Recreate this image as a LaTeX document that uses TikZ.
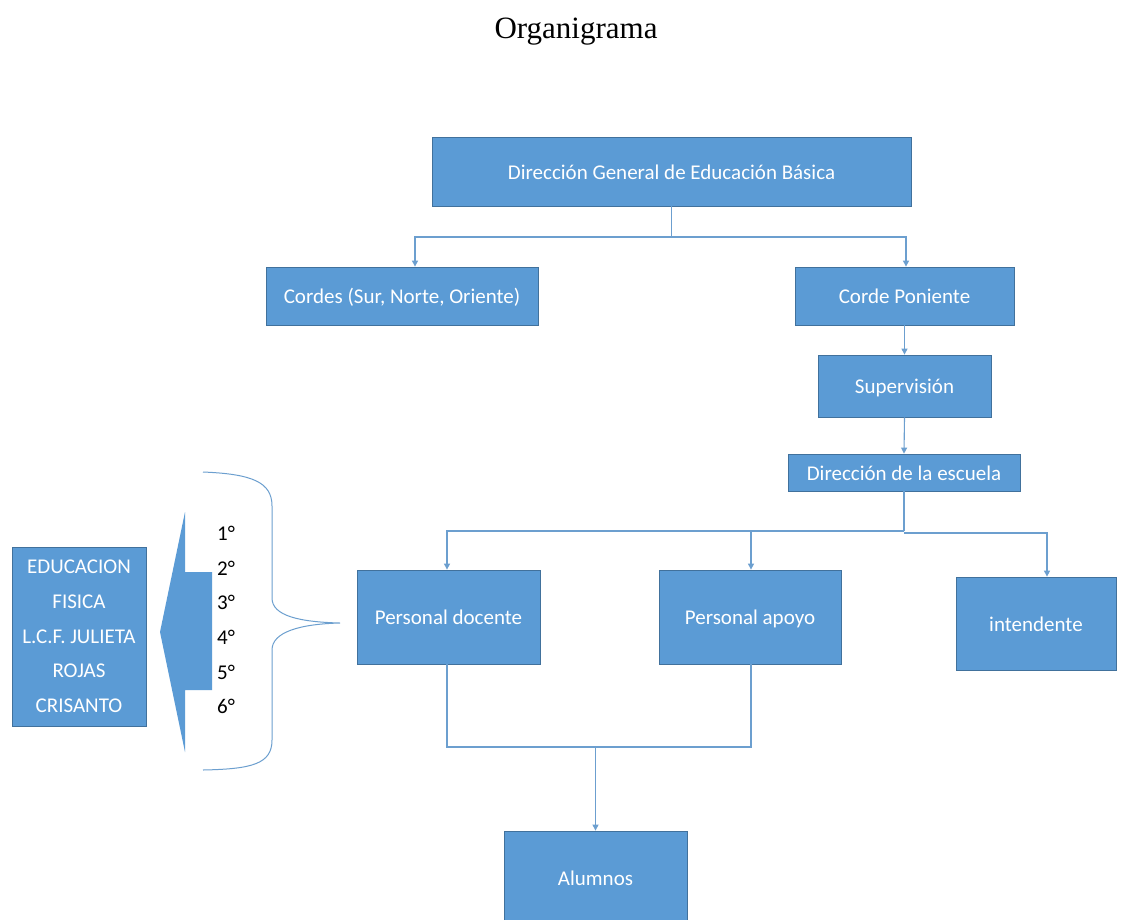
\documentclass[tikz,border=0pt]{standalone}
\usepackage{fontspec}
\setmainfont{Carlito}
\newfontfamily\titlefont{Liberation Serif}
\usetikzlibrary{arrows.meta}
\definecolor{boxfill}{HTML}{5B9BD5}
\definecolor{boxline}{HTML}{41719C}
\definecolor{linkcol}{HTML}{6C9FCF}
\tikzset{
  orgbox/.style={draw=boxline, line width=0.8pt, fill=boxfill, text=white,
    font=\fontsize{21}{25}\selectfont, inner sep=0pt, anchor=center,
    text height=15pt, text depth=0pt},
  link/.style={draw=linkcol, line width=1.1pt},
  arr/.style={link, -{Triangle[width=6pt,length=6pt]}}
}
\begin{document}
\begin{tikzpicture}[x=1pt,y=-1pt]
\useasboundingbox[fill=white] (0,0) rectangle (1130,919);

% title
\node[font=\titlefont\fontsize{31}{35}\selectfont] (title) at (576,32) {Organigrama};

% boxes
\node[orgbox, minimum width=479pt, minimum height=69pt] (top) at (671.5,171.5) {Dirección General de Educación Básica};
\node[orgbox, minimum width=272pt, minimum height=58pt] (cordes) at (402,296) {Cordes (Sur, Norte, Oriente)};
\node[orgbox, minimum width=219pt, minimum height=58pt] (cp) at (904.5,296) {Corde Poniente};
\node[orgbox, minimum width=173pt, minimum height=62pt] (sup) at (904.5,386) {Supervisión};
\node[orgbox, minimum width=232pt, minimum height=37pt] (dir) at (904,472.5) {Dirección de la escuela};
\node[orgbox, minimum width=183pt, minimum height=94pt] (doc) at (448.5,617) {Personal docente};
\node[orgbox, minimum width=182pt, minimum height=94pt] (apo) at (750,617) {Personal apoyo};
\node[orgbox, minimum width=160pt, minimum height=93pt] (int) at (1036,623.5) {intendente};
\node[orgbox, minimum width=183pt, minimum height=94pt] (alu) at (595.5,878) {Alumnos};
\node[orgbox, minimum width=134pt, minimum height=179pt, align=center,
      text height=, text depth=,
      font=\fontsize{21}{34.7}\selectfont] (edu) at (79,636.5)
  {EDUCACION\\FISICA\\L.C.F. JULIETA\\ROJAS\\CRISANTO};

% junction points
\coordinate (j1) at (671.5,237);
\coordinate (j2) at (904,531);
\coordinate (j2r) at (904,533);
\coordinate (j3) at (595.5,747);

% connectors
\draw[link] (top.south) -- (j1);
\draw[arr] (j1) -| ([xshift=13pt]cordes.north);
\draw[arr] (j1) -| ([xshift=1.5pt]cp.north);
\draw[arr] (cp.south) -- (sup.north);
\draw[arr] (sup.south) -- (dir.north);
\draw[link] (dir.south) -- (j2);
\draw[arr] (j2) -| ([xshift=-1.5pt]doc.north);
\draw[arr] (j2) -| ([xshift=1pt]apo.north);
\draw[arr] (j2r) -| ([xshift=11pt]int.north);
\draw[link] ([xshift=-1.5pt]doc.south) |- (j3) -| ([xshift=1pt]apo.south);
\draw[arr] (j3) -- (alu.north);

% grades
\node[anchor=west, align=left, inner sep=0pt, font=\fontsize{21}{34.7}\selectfont] (grades) at (217,620)
  {1°\\2°\\3°\\4°\\5°\\6°};

% brace
\draw[link, line width=1pt] (203,472) .. controls (252,474) and (272,482) .. (272,506)
  -- (272,598) .. controls (272,616) and (300,622) .. (340,623)
  .. controls (300,624) and (272,632) .. (272,650)
  -- (272,740) .. controls (272,764) and (252,769) .. (203,770);

% block arrow pointing to the left
\fill[boxfill] (160,632) -- (185,512) -- (185,572) -- (212,572) -- (212,690)
  -- (185,690) -- (185,752) -- cycle;
\end{tikzpicture}
\end{document}
